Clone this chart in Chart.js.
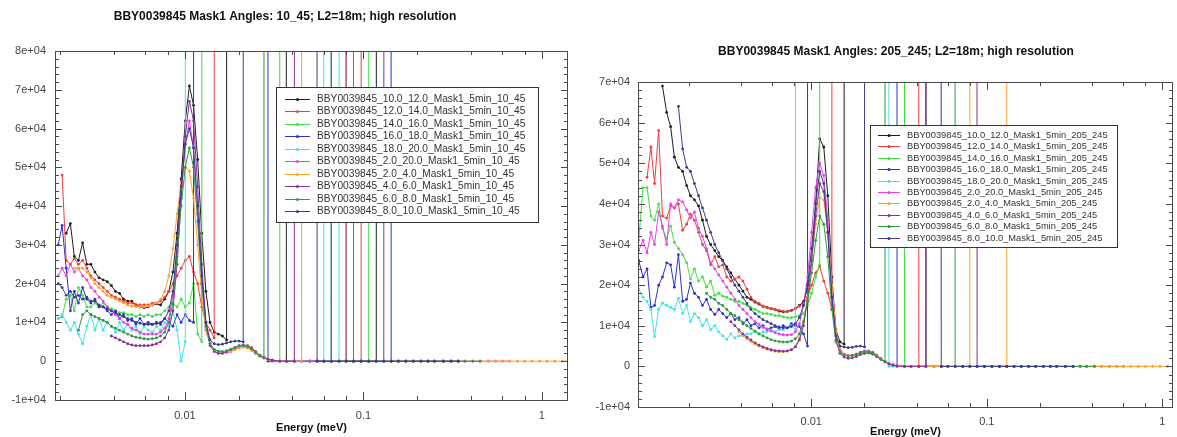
<!DOCTYPE html>
<html><head><meta charset="utf-8">
<script src="https://cdn.jsdelivr.net/npm/chart.js@4.4.1/dist/chart.umd.min.js"></script>
<style>
html,body{margin:0;padding:0;background:#fff;overflow:hidden}
#wrap{position:relative;width:1177px;height:437px;background:#fff}
canvas{position:absolute;top:0}
</style></head><body>
<div id="wrap"><canvas id="c1" width="590" height="437" style="left:0"></canvas><canvas id="c2" width="587" height="437" style="left:590px"></canvas></div>
<script>
const _ = null;      // no data
const H = 1e4;       // off-scale value (thousands), goes above the plot
const UNIT = 1000;   // series values are in thousands of counts

const ENERGY = [0.00104,0.0011,0.00116,0.00122,0.00128,0.00135,0.00142,0.0015,0.00158,0.00166,
0.00175,0.00185,0.00195,0.00205,0.00216,0.00228,0.0024,0.00253,0.00267,0.00282,
0.00297,0.00313,0.0033,0.00348,0.00367,0.00387,0.00408,0.0043,0.00453,0.00478,
0.00504,0.00531,0.0056,0.0059,0.00622,0.00656,0.00692,0.0073,0.0077,0.00812,
0.00856,0.00903,0.00952,0.01004,0.01059,0.01117,0.01178,0.01242,0.0131,0.01382,
0.01458,0.01538,0.01622,0.01711,0.01805,0.01904,0.0201,0.0212,0.0224,0.0236,
0.0249,0.0263,0.0277,0.0292,0.0308,0.034,0.037,0.041,0.045,0.05,
0.055,0.06,0.066,0.073,0.08,0.088,0.097,0.107,0.118,0.13,
0.143,0.157,0.173,0.19,0.21,0.23,0.25,0.28,0.31,0.34,
0.37,0.41,0.45,0.5,0.55,0.6,0.66,0.73,0.8,0.88,
0.97,1.07,1.18,1.3,1.4];

const SERIES_RANGES = ['10.0_12.0','12.0_14.0','14.0_16.0','16.0_18.0','18.0_20.0','2.0_20.0','2.0_4.0','4.0_6.0','6.0_8.0','8.0_10.0'];
const LEFT_ANGLES = '10_45';
const RIGHT_ANGLES = '205_245';
const LEFT_TITLE = 'BBY0039845 Mask1 Angles: 10_45; L2=18m; high resolution';
const RIGHT_TITLE = 'BBY0039845 Mask1 Angles: 205_245; L2=18m; high resolution';
const X_TITLE = 'Energy (meV)';
const X_TICKS = [0.01, 0.1, 1];
const X_TICK_LABELS = ['0.01', '0.1', '1'];
const X_MINOR = [0.002,0.004,0.006,0.008,0.02,0.04,0.06,0.08,0.2,0.4,0.6,0.8];
const Y_TICKS_LEFT = [-10000,0,10000,20000,30000,40000,50000,60000,70000,80000];
const Y_TICKS_RIGHT = [-10000,0,10000,20000,30000,40000,50000,60000,70000];

// ---------- left panel (angles 10_45), values in thousands ----------
const L_10_12 = [_,_,_,_,_,_,_,_,_,_,
 _,_,_,_,33,35.5,27,26,30.5,25,
 25,23,21.5,21,20.5,19.5,18,17.5,16,15.5,
 15.5,14.5,14,13.8,14,14.5,14.8,14.5,16,18,
 23,33,47,62,71,66,52,33,18,10,
 7.5,7,6.5,5.5,H,H,H,H,H,H,
 H,H,H,H,H,H,0,0,0,0,
 0,0,0,0,0,0,0,0,0,H,
 H,H,H,H];
const L_12_14 = [_,_,_,_,_,_,_,_,_,_,
 _,_,_,48,26,25,26.5,25,26,24,
 22,21,20,19,18,17,16.5,16,15.5,15,
 15,14.5,14.5,14.5,14.5,15,15,15.5,16.5,18,
 20,22,24,26,27,23,20,14,10,8,
 6,H,H,H,H,H,H,H,H,H,
 H,H,H,H,H,H,H,H,H,H,
 H,H,H,H,H,0,0,H,H,H,
 H];
const L_14_16 = [_,_,_,_,_,_,_,_,_,_,
 _,_,11,11.5,16,17,13,19,17,14,
 14,15,14,15,14,13.5,13,12.5,12.5,12,
 12,11.5,12,11.5,12,11.5,12,12,13,14,
 15,14,16,14,15,20,7,5,H,H,
 H,H,H,H,H,H,H,H,H,H,
 H,H,H,H,H,0,0,0,0,0,
 0,0,0,0,0,0,0,0,H,H,
 H,H];
const L_16_18 = [_,_,_,_,_,_,_,_,_,_,
 _,_,30,35,24,13,18,15,19,16,
 15,16,14,14,13,12,13,11,12,10.5,
 11,9.5,11,9.5,10,9.5,10,9.5,11,10,
 9,12,10,12,10.5,10,H,H,H,H,
 H,H,H,H,H,H,H,H,H,H,
 H,H,H,0,0,0,0,0,0,0,
 0,0,0,H,H,H,H,H,H,H,
 0,0,0,0,0,0,0,0,0,0];
const L_18_20 = [_,_,_,_,_,_,_,_,_,_,
 _,_,11,12,10,8,10,7,4.5,9,
 12,8,11,8,10,9,7.5,10,8,9.5,
 8,9,7,9,8,7.5,9,8,10,9,
 13,8,0,5,H,H,H,H,H,H,
 H,H,H,H,H,H,H,H,H,H,
 H,H,H,H,H,H,H,H,H,H,
 H,0,0,0,H,H,H,H];
const L_2_20 = [_,_,_,_,_,_,_,_,_,_,
 _,_,22,24,22,25,23,24,22,21,
 19,18,16.5,15.5,14,13,12,11,10,9.5,
 8.5,8,7.5,7,7,7,7,7.5,8.5,11,
 17,28,43,56,62,55,38,20,8,4.5,
 3,2.5,2.2,2.2,2.5,3,3.5,3.8,3.5,2.8,
 2,1.3,0.8,0.5,0.3,0,0,0,0,0,
 0,0,0,0,0,0,0,0,0,0,
 0,0,0,0,0,0,0,0,0,0,
 0,0,0,0,0,0,0];
const L_2_4 = [_,_,_,_,_,_,_,_,_,_,
 _,_,_,_,_,_,24,24,24,23,
 21.5,20,19,18,17,16.5,16,15.5,15,14.5,
 14.2,14,14,14,14.2,14.5,15,16,18,22,
 29,38,46,50,49,42,30,17,8,4.5,
 3,2.5,2.3,2.3,2.6,3,3.4,3.6,3.4,2.8,
 2,1.3,0.8,0.4,0.2,0,0,0,0,H,
 H,H,H,H,0,0,0,0,0,0,
 0,0,0,0,0,0,0,0,0,0,
 0,0,0,0,0,0,0,0,0,0,
 0,0,0,0,0];
const L_4_6 = [_,_,_,_,_,_,_,_,_,_,
 _,_,_,_,_,_,_,_,_,_,
 _,_,_,_,_,6.5,6,5.5,5,4.5,
 4.2,4,4,4,4,4.2,4.5,5,6,8,
 13,25,42,58,67,62,45,25,10,4,
 2.5,2,2,2.5,3,3.5,4,4.2,4,3.5,
 2.5,1.5,1,0.5,0.3,0,0,0,H,H,
 H,H,H,H,0,0,0,0,0,0,
 H,H,H,H];
const L_6_8 = [_,_,_,_,_,_,_,_,_,_,
 _,_,_,_,_,_,_,8,12,13,
 12,11.5,11,10.5,10,9,8.5,8,7.5,7,
 6.5,6.2,6,5.8,5.7,5.8,6,6.5,7.5,10,
 15,27,40,50,55,50,36,20,9,4.5,
 3,2.6,2.5,2.7,3.1,3.5,3.9,4,3.8,3.2,
 2.3,1.4,0.9,H,H,H,H,H,H,H,
 H,H,0,0,0,0,0,0,0,0,
 0,0,0,0,0,0,0,0,0,0,
 0,0,0];
const L_8_10 = [_,_,_,_,_,_,_,_,_,_,
 _,_,20,19,17,18,16.5,17,16,16.5,
 15.5,15.5,14.5,14,13.5,13,12.5,12,11.5,11,
 10.5,10,9.8,9.5,9.5,9.5,9.7,10,11,13,
 18,30,45,56,60,55,40,22,10,5.5,
 4.5,4.3,4.4,4.7,5,5.2,5.2,5,H,H,
 H,H,H,H,H,H,H,H,H,H,
 0,0,0,0,0,0,0,0,0,0,
 0,0,0,0,0,0,0,0,0,0];

// ---------- right panel (angles 205_245), values in thousands ----------
const R_10_12 = [_,_,_,_,_,_,69,62.5,59,51.5,
 49,48,44.5,42,41,39.5,36,32,30,28.5,
 27,26,24.5,23,21.5,20,18.5,17,16.5,15.8,
 15.3,14.8,14.5,14.2,14,13.6,13.4,13.5,13.8,14.3,
 15,16,19,26,40,56,54,42,22,9,
 6,5.5,H,H,H,H,H,H,H,H,
 H,H,H,H,H,H,H,H,0,0,
 0,0,0];
const R_12_14 = [_,_,46.5,54,45,58,37,36.5,39.5,39,
 40,33.5,35,37.5,36,33,30,28.5,25,27,
 24.5,25,22,21,21.5,22,21,19,17,16,
 15.5,14.8,14.5,14.2,14,13.8,13.6,13.5,13.7,14.2,
 14.8,15.5,17,20,23,24.6,21,18,14,H,
 H,H,H,H,H,H,H,H,H,H,
 H,H,H,H,H,H,H,0,0,0,
 0];
const R_14_16 = [31,44,44,37,36,40,34,31.5,34.5,30.5,
 29,27.5,25.5,21.5,24,21,22,19.5,21,17.5,
 18,17.3,17,16.5,16,16,15.5,15,14.5,14,
 13.5,13,13,12.8,12.5,12.5,12.2,12,12,12.2,
 12.5,13,15,18,22,25,H,H,H,H,
 H,H,H,H,H,H,H,H,H,H,
 H,H,H,H,H,0,0,0,0,0,
 0,0];
const R_16_18 = [26,22,24,14.5,15,20,22,25.5,25,19.5,
 27.5,16,16.5,20.5,18,17,15,16.5,14,12.8,
 14,13,12,13,11.5,12,10.5,11.5,10,10.5,
 9.5,10,9,9.5,9.8,9.2,10,9.5,10.5,10,
 9.8,8,5,H,H,H,H,H,H,H,
 H,H,H,H,H,H,H,H,H,H,
 H,H,H,H,0,0,0,0,0,0,
 0];
const R_18_20 = [19,17,16,14,7.4,14,15.6,15,14.5,14,
 16.8,13,15,11,13,12,10,11.5,9,10,
 8.5,7.5,6.6,8,7,7.5,7.5,8,8,8.5,
 8,8.5,8.5,9,8.5,9,9,9.5,10,9,
 H,H,H,H,H,H,H,H,H,H,
 H,H,H,H,H,H,H,H,H,H,
 H,H,0,0,0,0,0];
const R_2_20 = [28.5,31,28,33,30,38,34.5,30,40,39,
 41,40.5,38.5,36.5,38,34,32,29,25.5,24,
 22.5,21,19.5,18,16.5,15,14,13,12,11,
 10.3,9.6,9.2,8.7,8.3,8,7.8,7.7,7.8,8.5,
 10.5,15,22,33,44,50,47,36,19,8,
 4,3,2.7,2.7,3,3.5,3.8,3.8,3.5,2.8,
 2,1.2,0.7,0.4,0.2,0,0,0,0,0,
 0,0,0,0,0,0,0,0,0,0,
 0,0,0,0,0,0,0,0,0,0,
 0,0,0,0,0,0];
const R_2_4 = [_,_,_,_,_,_,_,_,_,_,
 _,_,_,_,_,_,_,_,_,_,
 _,_,_,_,_,8.5,7.6,6.8,6.1,5.5,
 5,4.6,4.2,3.9,3.7,3.6,3.6,3.7,4.1,5,
 7,11,17,26,35,41.5,41,33,20,9,
 4.5,3,2.6,2.6,2.8,3.2,3.5,3.5,3.2,2.6,
 1.9,1.2,0.7,0.3,0.1,0,0,0,0,0,
 0,0,0,0,0,H,H,H,H,0,
 0,0,0,0,0,0,0,0,0,0,
 0,0,0,0,0,0,0,0,0,0,
 0,0,0];
const R_4_6 = [_,_,_,_,_,_,_,_,_,_,
 _,_,_,_,_,_,_,_,_,_,
 _,_,_,11,10,9,8,7.2,6.5,5.8,
 5.2,4.8,4.4,4.1,3.9,3.8,3.7,3.8,4.1,4.8,
 6.5,10,16,26,37,45,43,33,17,6.5,
 3.2,2.3,2,2.1,2.4,2.9,3.2,3.3,3,2.4,
 1.7,1.1,0.6,0.3,0.1,0,0,0,0,H,
 H,H,H,H,H,0,0,0,0,0,
 0];
const R_6_8 = [_,_,_,_,_,_,_,_,_,_,
 _,_,_,_,_,_,_,18,17,16.5,
 15.5,15,14,13,12.5,11.5,10.8,10,9.3,8.7,
 8,7.5,7,6.6,6.3,6.1,6,6,6.2,6.8,
 8,11,16,23,31,37,35,27,14,6,
 3.5,2.8,2.6,2.7,3,3.4,3.6,3.6,3.3,2.6,
 1.8,1.1,H,H,H,H,H,H,H,H,
 H,H,0,0,0,0,0,0,0,0,
 0,0,0,0,0,0,0,0,0,0,
 0,0];
const R_8_10 = [_,_,_,_,_,_,_,_,_,_,
 64,53.5,49,48,45,42,39,36,33,30,
 28,26,24,22,20,18.5,17,15.5,14,13,
 12.2,11.5,11,10.5,10,9.7,9.5,9.5,9.8,10.5,
 12,15,20,29,40,48,45,33,17,7.5,
 5,4.8,4.6,4.7,4.9,5,4.8,H,H,H,
 H,H,H,H,H,H,H,H,H,H,
 0,0,0,0,0,0,0,0,0,0,
 0,0,0,0,0,0,0,0,0];

const LEFT_SERIES = [L_10_12,L_12_14,L_14_16,L_16_18,L_18_20,L_2_20,L_2_4,L_4_6,L_6_8,L_8_10];
const RIGHT_SERIES = [R_10_12,R_12_14,R_14_16,R_16_18,R_18_20,R_2_20,R_2_4,R_4_6,R_6_8,R_8_10];

// ---------- styles ----------
const COLORS = ['#1e1e1e','#f23c3c','#3fe03f','#2f2fd2','#40e4e4','#ee3cee','#ffa028','#8a2f9a','#2e9a48','#3c3c8c'];
const FONT = 'Liberation Sans, Arial, sans-serif';

function fmtY(v) {
  if (v === 0) return '0';
  return v.toExponential(0).replace(/e([+-])(\d)$/, 'e$10$2');
}

function buildDatasets(series, angles) {
  return series.map((arr, i) => ({
    label: 'BBY0039845_' + SERIES_RANGES[i] + '_Mask1_5min_' + angles,
    data: arr.map((v, j) => ({ x: ENERGY[j], y: v === null ? null : v * UNIT })),
    borderColor: COLORS[i],
    backgroundColor: COLORS[i],
    pointBackgroundColor: COLORS[i],
    pointBorderWidth: 0,
    pointRadius: 1.4,
    borderWidth: 1,
    tension: 0,
    spanGaps: false,
    order: series.length - 1 - i
  }));
}

const framePlugin = {
  id: 'frame',
  afterDraw(chart, args, o) {
    const ctx = chart.ctx, a = chart.chartArea, xs = chart.scales.x, ys = chart.scales.y;
    ctx.save();
    ctx.strokeStyle = '#4a4a4a';
    ctx.lineWidth = 1;
    ctx.beginPath();
    const xt = (v, len) => {
      const p = Math.round(xs.getPixelForValue(v)) + 0.5;
      if (p < a.left || p > a.right) return;
      ctx.moveTo(p, a.bottom); ctx.lineTo(p, a.bottom - len);
      ctx.moveTo(p, a.top); ctx.lineTo(p, a.top + len);
    };
    X_TICKS.forEach(v => xt(v, 8));
    X_MINOR.forEach(v => xt(v, 4));
    const yt = (v, len) => {
      const p = Math.round(ys.getPixelForValue(v)) + 0.5;
      ctx.moveTo(a.left, p); ctx.lineTo(a.left + len, p);
      ctx.moveTo(a.right, p); ctx.lineTo(a.right - len, p);
    };
    for (let v = ys.min; v <= ys.max + 1; v += 2000) yt(v, (Math.abs(v) % 10000 === 0) ? 7 : 4);
    ctx.stroke();
    ctx.strokeRect(Math.round(a.left) + 0.5, Math.round(a.top) + 0.5, Math.round(a.right - a.left) - 1, Math.round(a.bottom - a.top));

    // title
    ctx.fillStyle = '#111';
    ctx.font = 'bold 12px ' + FONT;
    ctx.textAlign = 'center';
    ctx.textBaseline = 'middle';
    ctx.fillText(o.title, o.titleX, o.titleY);
    // x axis title
    ctx.font = 'bold 11px ' + FONT;
    ctx.fillText(X_TITLE, (a.left + a.right) / 2, o.xTitleY);

    // legend
    const L = o.legend;
    ctx.fillStyle = '#fff';
    ctx.fillRect(L.x, L.y, L.w, L.h);
    ctx.strokeStyle = '#333';
    ctx.strokeRect(L.x + 0.5, L.y + 0.5, L.w, L.h);
    ctx.font = L.font + 'px ' + FONT;
    ctx.textAlign = 'left';
    ctx.textBaseline = 'middle';
    chart.data.datasets.forEach((ds, i) => {
      const y = L.row0 + i * L.step;
      ctx.strokeStyle = ds.borderColor;
      ctx.beginPath();
      ctx.moveTo(L.line0, Math.round(y) + 0.5);
      ctx.lineTo(L.line1, Math.round(y) + 0.5);
      ctx.stroke();
      ctx.fillStyle = ds.borderColor;
      ctx.beginPath();
      ctx.arc((L.line0 + L.line1) / 2, Math.round(y) + 0.5, 1.5, 0, Math.PI * 2);
      ctx.fill();
      ctx.fillStyle = '#333';
      ctx.fillText(ds.label, L.textX, y + 0.5);
    });
    ctx.restore();
  }
};

function makeChart(id, series, angles, cfg) {
  return new Chart(document.getElementById(id), {
    type: 'line',
    data: { datasets: buildDatasets(series, angles) },
    plugins: [framePlugin],
    options: {
      responsive: false,
      animation: false,
      devicePixelRatio: 1,
      events: [],
      layout: { padding: cfg.padding },
      plugins: {
        legend: { display: false },
        title: { display: false },
        tooltip: { enabled: false },
        frame: cfg.frame
      },
      scales: {
        x: {
          type: 'logarithmic',
          min: cfg.xMin, max: cfg.xMax,
          grid: { display: false, drawTicks: false },
          border: { display: false },
          afterBuildTicks: s => { s.ticks = X_TICKS.map(v => ({ value: v })); },
          afterFit: s => { s.height = cfg.xHeight; },
          ticks: {
            autoSkip: false, maxRotation: 0, padding: cfg.xPad,
            color: '#444', font: { family: FONT, size: 11 },
            callback: v => X_TICK_LABELS[X_TICKS.indexOf(v)]
          }
        },
        y: {
          type: 'linear',
          min: cfg.yMin, max: cfg.yMax,
          grid: { display: false, drawTicks: false },
          border: { display: false },
          afterBuildTicks: s => { s.ticks = cfg.yTicks.map(v => ({ value: v })); },
          afterFit: s => { s.width = cfg.yWidth; },
          ticks: {
            padding: cfg.yPad, color: '#444', font: { family: FONT, size: 11 },
            callback: v => fmtY(v)
          }
        }
      }
    }
  });
}

makeChart('c1', LEFT_SERIES, LEFT_ANGLES, {
  padding: { left: 0, right: 22, top: 51, bottom: 0 },
  xMin: 0.00187, xMax: 1.4, yMin: -10000, yMax: 80000, yTicks: Y_TICKS_LEFT,
  xHeight: 37, yWidth: 55, xPad: 9, yPad: 9,
  frame: {
    title: LEFT_TITLE, titleX: 285, titleY: 17, xTitleY: 428,
    legend: { x: 276, y: 87, w: 262, h: 135, row0: 98.5, step: 12.5, line0: 285, line1: 310, textX: 317, font: 10.2 }
  }
});

makeChart('c2', RIGHT_SERIES, RIGHT_ANGLES, {
  padding: { left: 0, right: 1, top: 82, bottom: 0 },
  xMin: 0.00103, xMax: 1.15, yMin: -10000, yMax: 70000, yTicks: Y_TICKS_RIGHT,
  xHeight: 30, yWidth: 48, xPad: 8, yPad: 8,
  frame: {
    title: RIGHT_TITLE, titleX: 306, titleY: 52, xTitleY: 432,
    legend: { x: 280, y: 125, w: 247, h: 122, row0: 135, step: 11.4, line0: 288, line1: 310, textX: 317, font: 9.3 }
  }
});
</script>
</body></html>
